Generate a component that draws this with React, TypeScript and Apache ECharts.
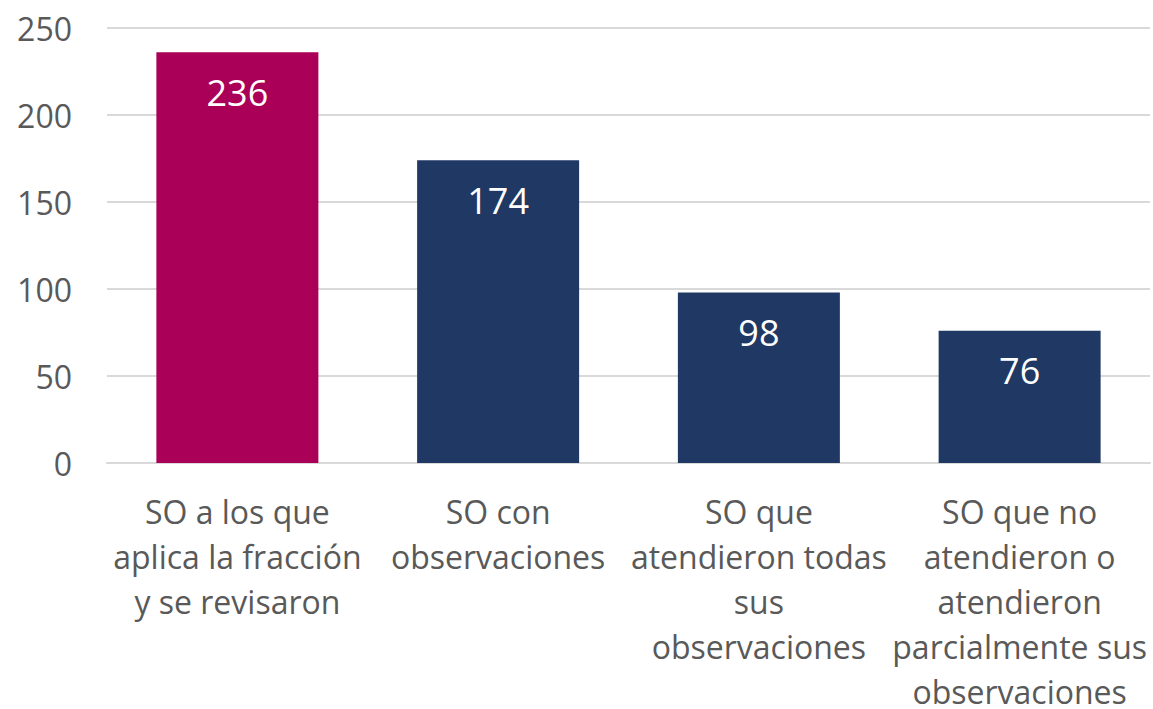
import React, { useEffect, useRef } from "react";
import * as echarts from "echarts";

const categories = [
  "SO a los que\naplica la fracción\ny se revisaron",
  "SO con\nobservaciones",
  "SO que\natendieron todas\nsus\nobservaciones",
  "SO que no\natendieron o\natendieron\nparcialmente sus\nobservaciones",
];
const values = [236, 174, 98, 76];
const barColors = ["#AB0058", "#203864", "#203864", "#203864"];
const yTicks = { min: 0, max: 250, interval: 50 };

export default function App() {
  const ref = useRef<HTMLDivElement>(null);
  useEffect(() => {
    document.body.style.margin = "0";
    const chart = echarts.init(ref.current!, undefined, { renderer: "svg" });
    const font = "'Open Sans', 'Noto Sans', sans-serif";
    chart.setOption({
      animation: false,
      grid: { left: 107, right: 3, top: 28, bottom: 246, containLabel: false, outerBoundsMode: "none" },
      xAxis: {
        type: "category",
        data: categories,
        axisTick: { show: false },
        axisLine: { lineStyle: { color: "#D9D9D9", width: 2 } },
        axisLabel: {
          interval: 0,
          color: "#595959",
          fontFamily: font,
          fontSize: 32,
          lineHeight: 45,
          margin: 26,
          align: "center",
        },
      },
      yAxis: {
        type: "value",
        min: yTicks.min,
        max: yTicks.max,
        interval: yTicks.interval,
        axisLine: { show: false },
        axisTick: { show: false },
        splitLine: { lineStyle: { color: "#D9D9D9", width: 2 } },
        axisLabel: {
          color: "#595959",
          fontFamily: font,
          fontSize: 32,
          margin: 35,
        },
      },
      series: [
        {
          type: "bar",
          barWidth: 162,
          data: values.map((v, i) => ({ value: v, itemStyle: { color: barColors[i] } })),
          label: {
            show: true,
            position: "insideTop",
            distance: 22,
            color: "#FFFFFF",
            fontFamily: font,
            fontSize: 36,
          },
        },
      ],
    });
    return () => chart.dispose();
  }, []);
  return <div ref={ref} style={{ width: 1153, height: 709 }} />;
}
